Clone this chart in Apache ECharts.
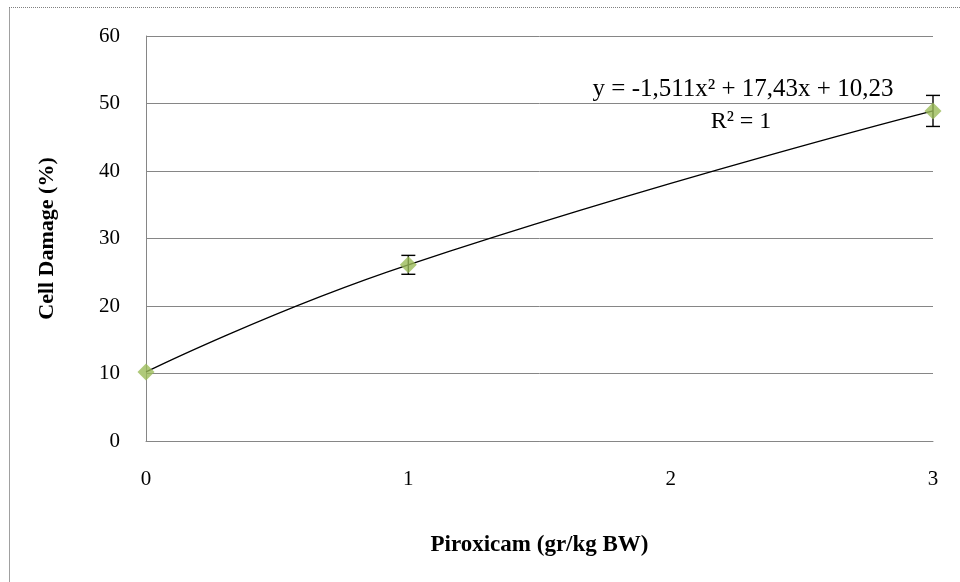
<!DOCTYPE html>
<html>
<head>
<meta charset="utf-8">
<script src="https://cdn.jsdelivr.net/npm/echarts@6/dist/echarts.min.js"></script>
<style>
  html, body { margin: 0; padding: 0; background: #fff; }
  #chart { width: 960px; height: 582px; }
</style>
</head>
<body>
<div id="chart"></div>
<script>
// dose (gr/kg BW) and measured cell damage (%)
const doses = [0, 1, 3];
const cellDamage = [10.23, 26.1, 48.9];
const errorSize = [0, 1.4, 2.3];
const yTicks = [0, 10, 20, 30, 40, 50, 60];

const equationText = 'y = -1,511x\u00B2 + 17,43x + 10,23';
const rSquaredText = 'R\u00B2 = 1';

const SERIF = '"Liberation Serif", "DejaVu Serif", serif';
const GREEN = '#9bbb59';

const points = doses.map((d, i) => [d, cellDamage[i]]);
const errData = doses.map((d, i) => [d, cellDamage[i] - errorSize[i], cellDamage[i] + errorSize[i]]);

const chart = echarts.init(document.getElementById('chart'));

const option = {
  animation: false,
  backgroundColor: '#fff',
  grid: { left: 146, right: 27, top: 36, bottom: 141 },
  xAxis: {
    type: 'value',
    min: 0,
    max: 3,
    interval: 1,
    name: 'Piroxicam (gr/kg BW)',
    nameLocation: 'middle',
    nameGap: 93,
    nameTextStyle: { fontFamily: SERIF, fontWeight: 'bold', fontSize: 23, color: '#000' },
    axisLine: { show: true, lineStyle: { color: '#868686', width: 1 } },
    axisTick: { show: false },
    splitLine: { show: false },
    axisLabel: { fontFamily: SERIF, fontSize: 21, color: '#000', margin: 28 },
  },
  yAxis: {
    type: 'value',
    min: yTicks[0],
    max: yTicks[yTicks.length - 1],
    interval: 10,
    name: 'Cell Damage (%)',
    nameLocation: 'middle',
    nameRotate: 90,
    nameGap: 88,
    nameTextStyle: { fontFamily: SERIF, fontWeight: 'bold', fontSize: 22, color: '#000' },
    axisLine: { show: true, lineStyle: { color: '#868686', width: 1 } },
    axisTick: { show: false },
    splitLine: { show: true, lineStyle: { color: '#868686', width: 1 } },
    axisLabel: { fontFamily: SERIF, fontSize: 21, color: '#000', margin: 26 },
  },
  series: [
    {
      // trendline through the points
      type: 'line',
      data: points,
      smooth: 0.5,
      symbol: 'none',
      lineStyle: { color: '#000', width: 1.3 },
      z: 2,
    },
    {
      type: 'custom',
      data: errData,
      renderItem: function (params, api) {
        const x = api.value(0);
        const lo = api.coord([x, api.value(1)]);
        const hi = api.coord([x, api.value(2)]);
        if (hi[1] === lo[1]) return null;
        const w = 7;
        const style = { stroke: '#000', lineWidth: 1.4 };
        return {
          type: 'group',
          children: [
            { type: 'line', shape: { x1: lo[0], y1: lo[1], x2: hi[0], y2: hi[1] }, style: style },
            { type: 'line', shape: { x1: lo[0] - w, y1: lo[1], x2: lo[0] + w, y2: lo[1] }, style: style },
            { type: 'line', shape: { x1: hi[0] - w, y1: hi[1], x2: hi[0] + w, y2: hi[1] }, style: style },
          ],
        };
      },
      z: 3,
    },
    {
      type: 'scatter',
      data: points,
      symbol: 'diamond',
      symbolSize: 17,
      itemStyle: { color: GREEN },
      z: 4,
    },
  ],
  graphic: [
    { type: 'line', shape: { x1: 9, y1: 7.5, x2: 960, y2: 7.5 }, style: { stroke: '#808080', lineWidth: 1, lineDash: [1, 1] } },
    { type: 'line', shape: { x1: 9.5, y1: 8, x2: 9.5, y2: 582 }, style: { stroke: '#a0a0a0', lineWidth: 1 } },
    { type: 'text', x: 743, y: 89, style: { text: equationText, fontFamily: SERIF, fontSize: 25, fill: '#000', align: 'center', verticalAlign: 'middle' } },
    { type: 'text', x: 741, y: 122, style: { text: rSquaredText, fontFamily: SERIF, fontSize: 24, fill: '#000', align: 'center', verticalAlign: 'middle' } },
  ],
};

chart.setOption(option);
</script>
</body>
</html>
